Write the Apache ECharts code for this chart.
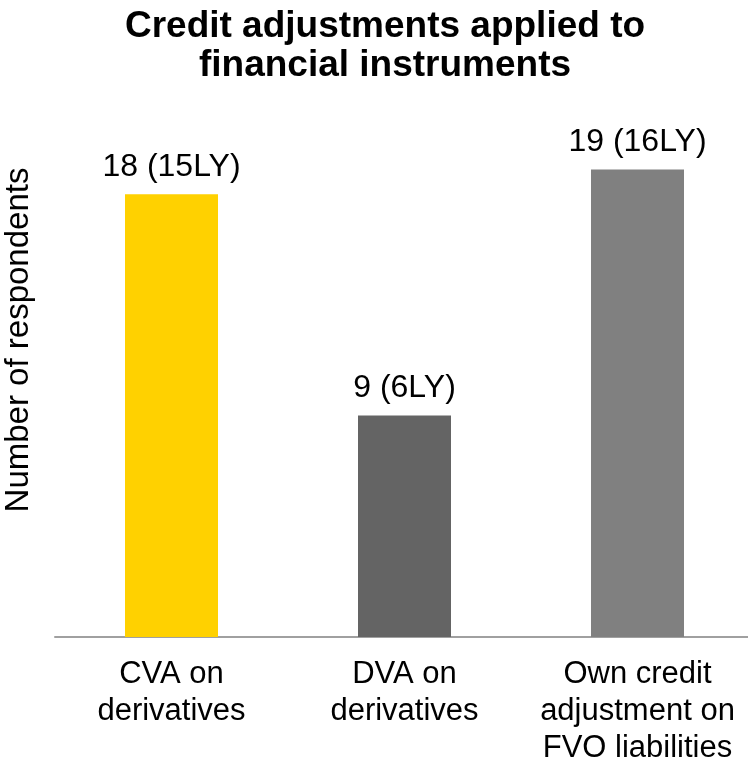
<!DOCTYPE html>
<html>
<head>
<meta charset="utf-8">
<script src="https://cdn.jsdelivr.net/npm/echarts@6/dist/echarts.min.js"></script>
<style>
  html, body { margin: 0; padding: 0; background: #fff; }
  #chart { width: 748px; height: 767px; }
</style>
</head>
<body>
<div id="chart"></div>
<script>
// Survey counts per credit adjustment type, with prior-year counts for the labels
const categories = ['CVA on\nderivatives', 'DVA on\nderivatives', 'Own credit\nadjustment on\nFVO liabilities'];
const respondents = [18, 9, 19];
const lastYear = [15, 6, 16];
const barColors = ['#FFD100', '#646464', '#808080'];

const FONT = '"Liberation Sans", Arial, sans-serif';

const chart = echarts.init(document.getElementById('chart'));
chart.setOption({
  animation: false,
  title: {
    text: 'Credit adjustments applied to\nfinancial instruments',
    left: 380,
    top: 2,
    textAlign: 'center',
    textStyle: { fontFamily: FONT, fontSize: 37, fontWeight: 'bold', color: '#000', lineHeight: 39 }
  },
  // plot area runs a few pixels past the right edge so the three bands are 233px wide
  grid: { left: 55, width: 699, top: 145, bottom: 130, outerBoundsMode: 'none', containLabel: false },
  xAxis: {
    type: 'category',
    data: categories,
    axisLine: { lineStyle: { color: '#a0a0a0', width: 2 } },
    axisTick: { show: false },
    axisLabel: {
      interval: 0, margin: 19, color: '#000',
      fontFamily: FONT, fontSize: 31, lineHeight: 37
    }
  },
  yAxis: {
    type: 'value',
    min: 0, max: 20,
    axisLine: { show: false },
    axisTick: { show: false },
    axisLabel: { show: false },
    splitLine: { show: false }
  },
  graphic: [{
    type: 'text',
    x: 19, y: 340,
    rotation: Math.PI / 2,
    style: {
      text: 'Number of respondents',
      fontFamily: FONT, fontSize: 33, fill: '#000',
      textAlign: 'center', textVerticalAlign: 'middle'
    }
  }],
  series: [{
    type: 'bar',
    barWidth: 93,
    data: respondents.map((v, i) => ({ value: v, itemStyle: { color: barColors[i] } })),
    label: {
      show: true,
      position: 'top',
      distance: 11,
      fontFamily: FONT, fontSize: 32, color: '#000',
      formatter: p => p.value + ' (' + lastYear[p.dataIndex] + 'LY)'
    }
  }]
});
</script>
</body>
</html>
